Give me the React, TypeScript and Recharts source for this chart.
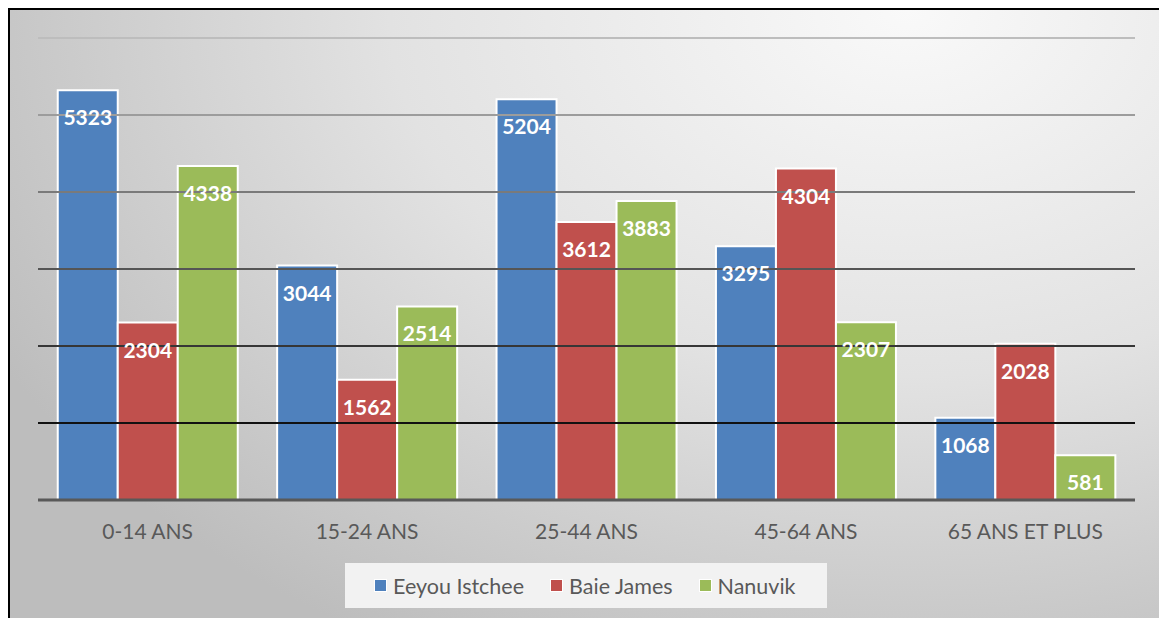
import { Bar, BarChart, LabelList, Legend, ReferenceLine, XAxis, YAxis } from "recharts";

const categories = ["0-14 ANS", "15-24 ANS", "25-44 ANS", "45-64 ANS", "65 ANS ET PLUS"];
const eeyou = [5323, 3044, 5204, 3295, 1068];
const baieJames = [2304, 1562, 3612, 4304, 2028];
const nanuvik = [4338, 2514, 3883, 2307, 581];
const gridValues = [1000, 2000, 3000, 4000, 5000, 6000];

const SERIES = [
  { key: "eeyou", name: "Eeyou Istchee", color: "#4f81bd" },
  { key: "baie", name: "Baie James", color: "#c0504d" },
  { key: "nanuvik", name: "Nanuvik", color: "#9bbb59" },
];

// lignes de grille : plus claires en haut, noires en bas
const GRID_COLORS: Record<number, string> = {
  1000: "#111111",
  2000: "#363636",
  3000: "#555555",
  4000: "#7a7a7a",
  5000: "#9c9c9c",
  6000: "#bdbdbd",
};

const data = categories.map((c, i) => ({
  cat: c,
  eeyou: eeyou[i],
  baie: baieJames[i],
  nanuvik: nanuvik[i],
}));

const FONT = "Lato, 'Open Sans', sans-serif";

function LegendBox() {
  return (
    <div
      style={{
        width: 482,
        height: 45,
        background: "#f2f2f2",
        display: "flex",
        alignItems: "center",
        paddingLeft: 29,
        boxSizing: "border-box",
        fontFamily: FONT,
        fontSize: 21.5,
        color: "#595959",
      }}
    >
      {SERIES.map((s) => (
        <span key={s.key} style={{ display: "flex", alignItems: "center", marginRight: 26 }}>
          <span
            style={{
              width: 13,
              height: 13,
              background: s.color,
              border: "1px solid #fff",
              marginRight: 6,
              boxSizing: "border-box",
            }}
          />
          {s.name}
        </span>
      ))}
    </div>
  );
}

export default function App() {
  return (
    <div
      style={{
        position: "absolute",
        left: 8,
        top: 8,
        width: 1151,
        height: 610,
        borderTop: "2px solid #000",
        borderLeft: "2px solid #000",
        background: "radial-gradient(ellipse 90% 120% at 78% 0%, #f9f9f9 0%, #e2e2e2 50%, #bdbdbd 100%)",
        overflow: "hidden",
      }}
    >
      <BarChart
        width={1149}
        height={608}
        data={data}
        margin={{ top: 28, right: 24, left: 28, bottom: 73 }}
        barCategoryGap="9%"
        barGap={0}
      >
        <YAxis hide domain={[0, 6000]} ticks={[0, ...gridValues]} />
        {gridValues.map((v) => (
          <ReferenceLine key={v} y={v} stroke={GRID_COLORS[v]} strokeWidth={2} />
        ))}
        <XAxis
          dataKey="cat"
          axisLine={{ stroke: "#595959", strokeWidth: 3 }}
          tickLine={false}
          height={45}
          tick={{ fill: "#595959", fontSize: 21, fontFamily: FONT }}
          tickMargin={18}
        />
        {SERIES.map((s) => (
          <Bar
            key={s.key}
            dataKey={s.key}
            name={s.name}
            fill={s.color}
            stroke="#ffffff"
            strokeWidth={2}
            isAnimationActive={false}
          >
            <LabelList
              dataKey={s.key}
              position="insideTop"
              offset={20}
              fill="#ffffff"
              fontSize={21}
              fontWeight="bold"
              fontFamily={FONT}
            />
          </Bar>
        ))}
        <Legend
          verticalAlign="middle"
          content={() => <LegendBox />}
          wrapperStyle={{ left: 335, top: 553, width: 482 }}
        />
      </BarChart>
    </div>
  );
}
